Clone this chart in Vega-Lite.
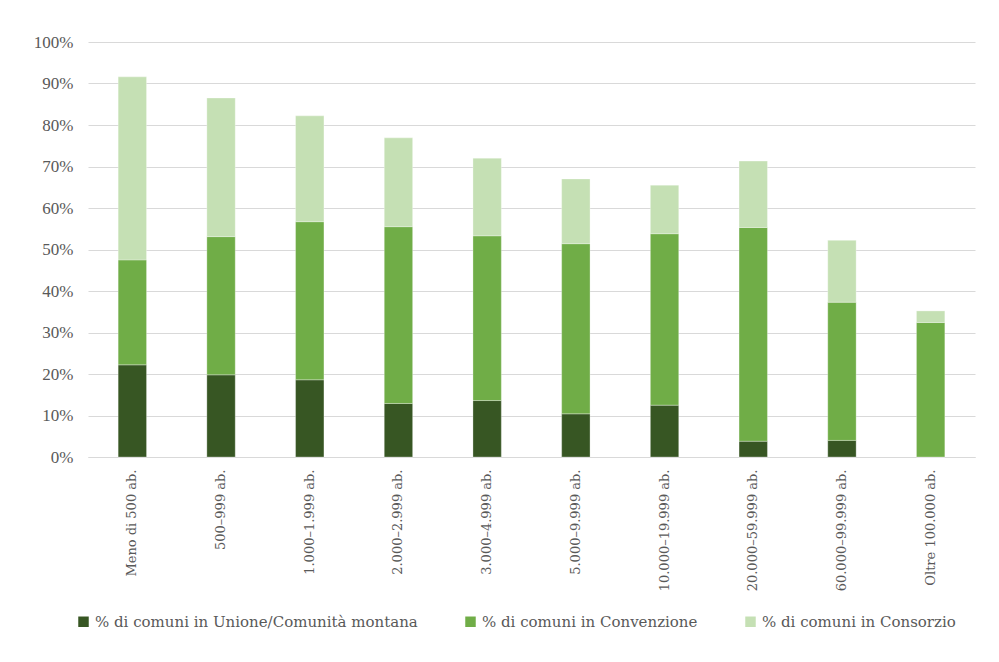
{
  "$schema": "https://vega.github.io/schema/vega-lite/v6.json",
  "width": 887,
  "height": 415,
  "autosize": {"type": "none"},
  "padding": {"left": 88, "top": 42, "right": 24, "bottom": 205},
  "background": "white",
  "config": {
    "view": {"stroke": null},
    "font": "DejaVu Serif"
  },
  "data": {
    "values": [
      {"cat": "Meno di 500 ab.", "serie": "% di comuni in Unione/Comunità montana", "ord": 1, "v": 22.2},
      {"cat": "Meno di 500 ab.", "serie": "% di comuni in Convenzione", "ord": 2, "v": 25.3},
      {"cat": "Meno di 500 ab.", "serie": "% di comuni in Consorzio", "ord": 3, "v": 44.1},
      {"cat": "500–999 ab.", "serie": "% di comuni in Unione/Comunità montana", "ord": 1, "v": 19.8},
      {"cat": "500–999 ab.", "serie": "% di comuni in Convenzione", "ord": 2, "v": 33.3},
      {"cat": "500–999 ab.", "serie": "% di comuni in Consorzio", "ord": 3, "v": 33.4},
      {"cat": "1.000–1.999 ab.", "serie": "% di comuni in Unione/Comunità montana", "ord": 1, "v": 18.6},
      {"cat": "1.000–1.999 ab.", "serie": "% di comuni in Convenzione", "ord": 2, "v": 38.1},
      {"cat": "1.000–1.999 ab.", "serie": "% di comuni in Consorzio", "ord": 3, "v": 25.5},
      {"cat": "2.000–2.999 ab.", "serie": "% di comuni in Unione/Comunità montana", "ord": 1, "v": 12.9},
      {"cat": "2.000–2.999 ab.", "serie": "% di comuni in Convenzione", "ord": 2, "v": 42.6},
      {"cat": "2.000–2.999 ab.", "serie": "% di comuni in Consorzio", "ord": 3, "v": 21.4},
      {"cat": "3.000–4.999 ab.", "serie": "% di comuni in Unione/Comunità montana", "ord": 1, "v": 13.6},
      {"cat": "3.000–4.999 ab.", "serie": "% di comuni in Convenzione", "ord": 2, "v": 39.7},
      {"cat": "3.000–4.999 ab.", "serie": "% di comuni in Consorzio", "ord": 3, "v": 18.7},
      {"cat": "5.000–9.999 ab.", "serie": "% di comuni in Unione/Comunità montana", "ord": 1, "v": 10.4},
      {"cat": "5.000–9.999 ab.", "serie": "% di comuni in Convenzione", "ord": 2, "v": 41.0},
      {"cat": "5.000–9.999 ab.", "serie": "% di comuni in Consorzio", "ord": 3, "v": 15.6},
      {"cat": "10.000–19.999 ab.", "serie": "% di comuni in Unione/Comunità montana", "ord": 1, "v": 12.5},
      {"cat": "10.000–19.999 ab.", "serie": "% di comuni in Convenzione", "ord": 2, "v": 41.3},
      {"cat": "10.000–19.999 ab.", "serie": "% di comuni in Consorzio", "ord": 3, "v": 11.7},
      {"cat": "20.000–59.999 ab.", "serie": "% di comuni in Unione/Comunità montana", "ord": 1, "v": 3.8},
      {"cat": "20.000–59.999 ab.", "serie": "% di comuni in Convenzione", "ord": 2, "v": 51.5},
      {"cat": "20.000–59.999 ab.", "serie": "% di comuni in Consorzio", "ord": 3, "v": 16.0},
      {"cat": "60.000–99.999 ab.", "serie": "% di comuni in Unione/Comunità montana", "ord": 1, "v": 4.0},
      {"cat": "60.000–99.999 ab.", "serie": "% di comuni in Convenzione", "ord": 2, "v": 33.3},
      {"cat": "60.000–99.999 ab.", "serie": "% di comuni in Consorzio", "ord": 3, "v": 14.9},
      {"cat": "Oltre 100.000 ab.", "serie": "% di comuni in Unione/Comunità montana", "ord": 1, "v": 0},
      {"cat": "Oltre 100.000 ab.", "serie": "% di comuni in Convenzione", "ord": 2, "v": 32.4},
      {"cat": "Oltre 100.000 ab.", "serie": "% di comuni in Consorzio", "ord": 3, "v": 2.8}
    ]
  },
  "mark": {"type": "bar", "stroke": "white", "strokeWidth": 0.5, "strokeOpacity": 0.6},
  "encoding": {
    "x": {
      "field": "cat",
      "type": "nominal",
      "sort": null,
      "title": null,
      "scale": {"paddingInner": 0.68, "paddingOuter": 0.34},
      "axis": {
        "labelAngle": -90,
        "labelFontSize": 13,
        "labelColor": "#595959",
        "labelPadding": 12,
        "ticks": false,
        "domainColor": "#d9d9d9",
        "domainWidth": 1,
        "labelFont": "DejaVu Serif"
      }
    },
    "y": {
      "field": "v",
      "type": "quantitative",
      "stack": "zero",
      "title": null,
      "scale": {"domain": [0, 100], "nice": false},
      "axis": {
        "values": [0, 10, 20, 30, 40, 50, 60, 70, 80, 90, 100],
        "labelExpr": "datum.value + '%'",
        "labelFontSize": 17,
        "labelColor": "#595959",
        "labelPadding": 15,
        "ticks": false,
        "domain": false,
        "gridColor": "#d9d9d9",
        "gridWidth": 1,
        "labelFont": "Liberation Serif"
      }
    },
    "color": {
      "field": "serie",
      "type": "nominal",
      "sort": ["% di comuni in Unione/Comunità montana", "% di comuni in Convenzione", "% di comuni in Consorzio"],
      "scale": {
        "domain": ["% di comuni in Unione/Comunità montana", "% di comuni in Convenzione", "% di comuni in Consorzio"],
        "range": ["#375623", "#70ad47", "#c5e0b4"]
      },
      "legend": {
        "title": null,
        "orient": "none",
        "direction": "horizontal",
        "legendX": -12,
        "legendY": 572,
        "symbolType": "square",
        "symbolSize": 110,
        "symbolStrokeWidth": 0,
        "labelFontSize": 15,
        "labelColor": "#595959",
        "labelFont": "DejaVu Serif",
        "columnPadding": 45,
        "labelLimit": 450
      }
    },
    "order": {"field": "ord", "type": "quantitative"}
  }
}
